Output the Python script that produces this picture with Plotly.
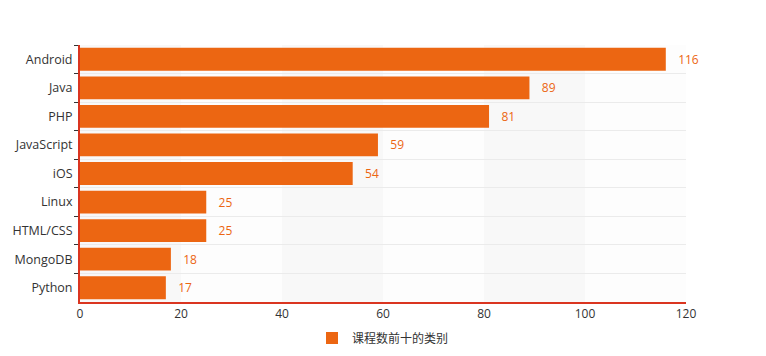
import plotly.graph_objects as go

categories = ["Android", "Java", "PHP", "JavaScript", "iOS", "Linux", "HTML/CSS", "MongoDB", "Python"]
course_counts = [116, 89, 81, 59, 54, 25, 25, 18, 17]
series_name = "课程数前十的类别"
x_ticks = [0, 20, 40, 60, 80, 100, 120]

bar_color = "#EC6612"
axis_red = "#DA3520"
font_family = "Open Sans, Noto Sans CJK SC, sans-serif"

fig = go.Figure()

fig.add_trace(
    go.Bar(
        x=course_counts,
        y=categories,
        orientation="h",
        name=series_name,
        marker=dict(color=bar_color, line=dict(width=0)),
        width=0.8,
        text=course_counts,
        texttemplate="\u00a0\u00a0\u00a0%{x}",
        textposition="outside",
        textfont=dict(color=bar_color, size=12, family=font_family),
        cliponaxis=False,
        hoverinfo="x+y",
    )
)

# alternating split areas along the value axis
shapes = []
for i in range(len(x_ticks) - 1):
    shapes.append(dict(
        type="rect", layer="below", xref="x", yref="paper",
        x0=x_ticks[i], x1=x_ticks[i + 1], y0=0, y1=1,
        fillcolor="#F8F8F8" if i % 2 == 0 else "#FDFDFD",
        line=dict(width=0),
    ))

# the page body adds an 8px offset, so margins are trimmed to compensate
fig.update_layout(
    width=766,
    height=356,
    margin=dict(l=72, r=88, t=37, b=62),
    paper_bgcolor="white",
    plot_bgcolor="white",
    font=dict(family=font_family, size=12, color="#333"),
    shapes=shapes,
    xaxis=dict(
        range=[0, 120],
        tickvals=x_ticks,
        showgrid=False,
        zeroline=False,
        showline=True,
        linecolor=axis_red,
        linewidth=2,
        ticks="",
        tickfont=dict(size=12, color="#333"),
        automargin=False,
        fixedrange=True,
    ),
    yaxis=dict(
        autorange="reversed",
        showline=True,
        linecolor=axis_red,
        linewidth=2,
        ticks="outside",
        tickson="boundaries",
        ticklen=4,
        tickcolor="#333",
        ticklabelstandoff=3,
        showgrid=True,
        gridcolor="#EBEBEB",
        gridwidth=1,
        tickfont=dict(size=12.5, color="#333"),
        automargin=False,
        fixedrange=True,
    ),
    showlegend=True,
    legend=dict(
        orientation="h",
        x=0.5,
        xanchor="center",
        y=-0.14,
        yanchor="middle",
        font=dict(size=12, color="#333"),
    ),
    bargap=0.2,
)

fig.write_html("out.html")
